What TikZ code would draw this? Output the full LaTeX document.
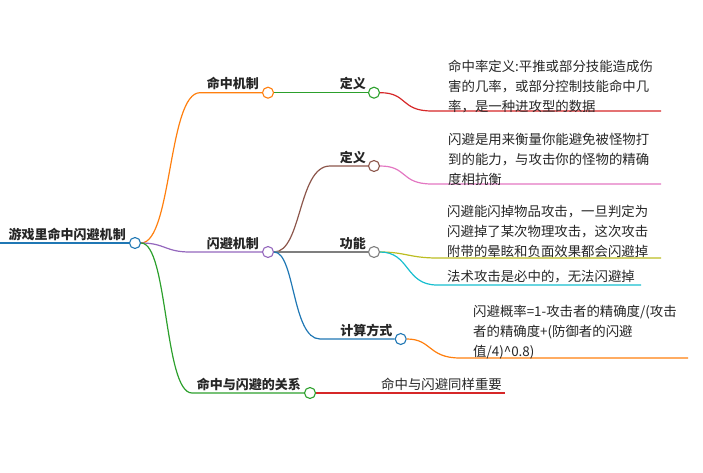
\documentclass[tikz,border=0pt]{standalone}
\usepackage{fontspec}
\setmainfont{Noto Sans CJK SC}
\definecolor{tabblue}{HTML}{1F77B4}
\definecolor{taborange}{HTML}{FF7F0E}
\definecolor{tabgreen}{HTML}{2CA02C}
\definecolor{tabred}{HTML}{D62728}
\definecolor{tabpurple}{HTML}{9467BD}
\definecolor{tabbrown}{HTML}{8C564B}
\definecolor{tabpink}{HTML}{E377C2}
\definecolor{tabgray}{HTML}{7F7F7F}
\definecolor{tabolive}{HTML}{BCBD22}
\definecolor{tabcyan}{HTML}{17BECF}
\begin{document}
\begin{tikzpicture}[x=1pt,y=-1pt,
  dot/.style={circle,draw,fill=white,inner sep=0pt,minimum size=11pt,line width=1.1pt},
  lbl/.style={font=\bfseries\fontsize{13}{13}\selectfont,anchor=base east,inner sep=0pt,text=black!85},
  txt/.style={font=\fontsize{13.4}{20}\selectfont,align=left,anchor=north west,inner sep=0pt,text=black!85},
  edge/.style={line width=1.2pt}]
\useasboundingbox (0,0) rectangle (703,473);
% root
\coordinate (rootend) at (0,243);
\node[dot,draw=tabblue] (root) at (135,243) {};
\node[lbl] (rootlbl) at ([xshift=-3pt,yshift=4pt]root.west) {游戏里命中闪避机制};
\draw[tabblue,line width=1.6pt] (rootend) -- (root.west);
% first level
\node[dot,draw=taborange] (hit) at (268,92.7) {};
\node[dot,draw=tabpurple] (dodge) at (268,252) {};
\node[dot,draw=tabgreen] (rel) at (310,393) {};
\coordinate (hitk) at (200,92.7);
\coordinate (dodgek) at (190,252);
\coordinate (relk) at (192,393);
\draw[taborange,edge] (root.east) .. controls (172,243) and (168,92.7) .. (hitk) -- (hit.west);
\draw[tabpurple,edge] (root.east) .. controls (165,243) and (165,252) .. (dodgek) -- (dodge.west);
\draw[tabgreen,edge] (root.east) .. controls (168,243) and (164,393) .. (relk) -- (rel.west);
\node[lbl] (hitlbl) at ([xshift=-3pt,yshift=4pt]hit.west) {命中机制};
\node[lbl] (dodgelbl) at ([xshift=-3pt,yshift=4pt]dodge.west) {闪避机制};
\node[lbl] (rellbl) at ([xshift=-3pt,yshift=4pt]rel.west) {命中与闪避的关系};
% second level
\node[dot,draw=tabgreen] (hdef) at (374,92.7) {};
\node[dot,draw=tabbrown] (ddef) at (374,166) {};
\node[dot,draw=tabgray] (dfun) at (374,252) {};
\node[dot,draw=tabblue] (dcalc) at (400.7,339) {};
\coordinate (ddefk) at (330,166);
\coordinate (dcalck) at (320,339);
\draw[tabgreen,edge] (hit.east) -- (hdef.west);
\draw[tabbrown,edge] (dodge.east) .. controls (302,252) and (298,166) .. (ddefk) -- (ddef.west);
\draw[tabgray,edge] (dodge.east) -- (dfun.west);
\draw[tabblue,edge] (dodge.east) .. controls (295,252) and (292,339) .. (dcalck) -- (dcalc.west);
\node[lbl] (hdeflbl) at ([xshift=-2pt,yshift=4pt]hdef.west) {定义};
\node[lbl] (ddeflbl) at ([xshift=-2pt,yshift=4pt]ddef.west) {定义};
\node[lbl] (dfunlbl) at ([xshift=-2pt,yshift=4pt]dfun.west) {功能};
\node[lbl] (dcalclbl) at ([xshift=-2pt,yshift=4pt]dcalc.west) {计算方式};
% leaves
\coordinate (hdefk) at (432,111);
\coordinate (hdefend) at (661,111);
\draw[tabred,edge] (hdef.east) .. controls (408,92.7) and (400,111) .. (hdefk) -- (hdefend);
\node[txt] (hdeftxt) at (448,60) {命中率定义:平推或部分技能造成伤\\害的几率，或部分控制技能命中几\\率，是一种进攻型的数据};
\coordinate (ddefk2) at (432,184);
\coordinate (ddefend) at (661,184);
\draw[tabpink,edge] (ddef.east) .. controls (408,166) and (400,184) .. (ddefk2) -- (ddefend);
\node[txt] (ddeftxt) at (448,133) {闪避是用来衡量你能避免被怪物打\\到的能力，与攻击你的怪物的精确\\度相抗衡};
\coordinate (dfunk1) at (437,258);
\coordinate (dfunend1) at (661,258);
\draw[tabolive,edge] (dfun.east) .. controls (405,252) and (410,258) .. (dfunk1) -- (dfunend1);
\node[txt] (dfuntxt1) at (447,205) {闪避能闪掉物品攻击，一旦判定为\\闪避掉了某次物理攻击，这次攻击\\附带的晕眩和负面效果都会闪避掉};
\coordinate (dfunk2) at (437,285);
\coordinate (dfunend2) at (641,285);
\draw[tabcyan,edge] (dfun.east) .. controls (410,252) and (405,285) .. (dfunk2) -- (dfunend2);
\node[txt] (dfuntxt2) at (447,270) {法术攻击是必中的，无法闪避掉};
\coordinate (dcalck2) at (460,358);
\coordinate (dcalcend) at (688,358);
\draw[taborange,edge] (dcalc.east) .. controls (432,339) and (428,358) .. (dcalck2) -- (dcalcend);
\node[txt] (dcalctxt) at (473,305) {闪避概率=1-攻击者的精确度/(攻击\\者的精确度+(防御者的闪避\\值/4)\textasciicircum0.8)};
\coordinate (relend) at (505,393);
\draw[tabred,edge] (rel.east) -- (relend);
\node[txt] (reltxt) at (381,378) {命中与闪避同样重要};
\end{tikzpicture}
\end{document}
